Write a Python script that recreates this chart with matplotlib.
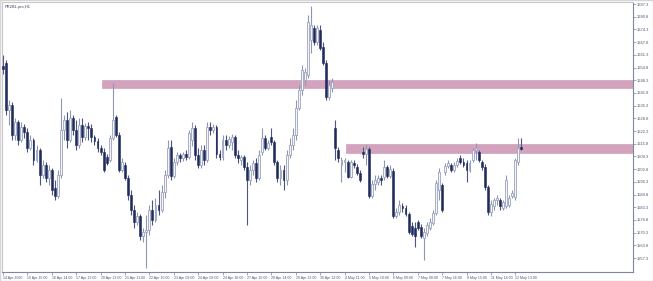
import matplotlib
matplotlib.use("Agg")
import matplotlib.pyplot as plt
from matplotlib.patches import Rectangle

title = "PR2BL.pro,H1"

opens = [1655.6, 1657.1, 1633.1, 1635.6, 1620.3, 1626.9, 1617.7, 1624.4, 1621.8, 1613.6,
         1617.7, 1607.5, 1612.6, 1599.8, 1604.9, 1598.3, 1602.3, 1593.1, 1589.0, 1599.8,
         1622.8, 1627.9, 1617.7, 1628.9, 1622.8, 1615.1, 1625.4, 1619.2, 1624.9, 1623.8,
         1619.2, 1617.2, 1613.6, 1611.6, 1609.0, 1607.5, 1618.7, 1629.5, 1620.3, 1602.3,
         1604.9, 1598.3, 1589.6, 1581.9, 1575.7, 1578.8, 1568.6, 1570.6, 1571.6, 1581.9,
         1576.8, 1584.4, 1581.9, 1591.1, 1599.8, 1614.1, 1599.3, 1606.4, 1610.0, 1608.5,
         1610.5, 1609.0, 1617.7, 1623.8, 1610.0, 1604.9, 1612.6, 1607.5, 1624.4, 1622.8,
         1624.4, 1610.5, 1609.0, 1617.7, 1615.1, 1616.7, 1619.2, 1610.0, 1607.5, 1609.0,
         1603.9, 1597.2, 1602.3, 1605.9, 1598.3, 1611.6, 1618.7, 1613.6, 1619.2, 1616.7,
         1606.4, 1598.3, 1602.3, 1597.2, 1610.0, 1615.1, 1620.3, 1634.1, 1643.3, 1648.4,
         1651.0, 1668.9, 1675.0, 1667.9, 1674.0, 1665.3, 1657.1, 1639.7, 1644.3, 1623.8,
         1612.6, 1604.9, 1606.4, 1606.4, 1598.8, 1605.9, 1603.9, 1600.8, 1611.6, 1610.5,
         1613.1, 1589.0, 1595.2, 1596.2, 1598.3, 1598.8, 1603.9, 1599.3, 1601.8, 1578.8,
         1580.9, 1583.9, 1582.9, 1579.8, 1573.7, 1572.7, 1575.7, 1573.2, 1567.5, 1570.1,
         1572.7, 1575.2, 1580.4, 1592.1, 1594.7, 1601.3, 1604.4, 1604.9, 1602.3, 1604.9,
         1608.5, 1606.4, 1605.9, 1602.3, 1607.5, 1612.6, 1611.6, 1606.4, 1603.9, 1593.6,
         1580.9, 1583.9, 1587.0, 1587.0, 1582.9, 1583.9, 1584.4, 1589.0, 1588.5, 1606.4,
         1614.1]
highs = [1661.2, 1658.6, 1638.2, 1637.1, 1628.9, 1627.9, 1626.9, 1625.9, 1623.8, 1620.3,
         1618.7, 1615.1, 1613.6, 1607.5, 1606.4, 1604.9, 1603.4, 1597.2, 1602.3, 1639.2,
         1630.5, 1632.0, 1633.1, 1630.5, 1627.9, 1628.9, 1628.9, 1626.4, 1626.9, 1625.9,
         1620.3, 1618.7, 1615.1, 1613.6, 1610.5, 1620.3, 1646.9, 1630.5, 1621.8, 1608.5,
         1606.4, 1599.8, 1592.1, 1584.4, 1580.9, 1579.8, 1572.7, 1579.3, 1584.4, 1587.0,
         1588.0, 1592.1, 1594.7, 1602.3, 1617.7, 1617.7, 1608.5, 1611.6, 1611.1, 1611.6,
         1612.6, 1622.8, 1626.9, 1625.4, 1613.6, 1615.1, 1615.1, 1626.9, 1626.9, 1625.9,
         1625.4, 1612.6, 1620.3, 1620.3, 1619.8, 1620.8, 1620.3, 1612.6, 1610.0, 1610.0,
         1606.4, 1604.9, 1607.5, 1608.5, 1612.6, 1623.8, 1620.3, 1617.7, 1623.8, 1617.7,
         1607.5, 1604.9, 1604.9, 1612.6, 1618.7, 1623.8, 1638.2, 1645.8, 1656.1, 1654.5,
         1681.7, 1686.3, 1676.6, 1676.6, 1676.6, 1667.9, 1658.6, 1648.4, 1649.4, 1627.9,
         1614.1, 1609.0, 1608.5, 1607.5, 1607.5, 1607.5, 1605.4, 1602.3, 1614.1, 1615.1,
         1614.1, 1597.2, 1599.8, 1599.8, 1599.8, 1607.5, 1604.9, 1604.9, 1603.4, 1582.9,
         1587.0, 1585.5, 1584.4, 1580.9, 1575.7, 1575.7, 1576.8, 1574.7, 1572.7, 1575.7,
         1577.8, 1581.9, 1597.2, 1603.4, 1595.7, 1605.9, 1607.5, 1605.9, 1606.4, 1608.5,
         1610.0, 1608.5, 1607.5, 1607.5, 1613.6, 1616.2, 1612.6, 1607.5, 1605.4, 1594.7,
         1587.0, 1588.0, 1589.6, 1588.0, 1587.0, 1599.8, 1589.6, 1592.1, 1608.5, 1618.7,
         1618.7]
lows = [1651.5, 1630.5, 1625.4, 1617.7, 1617.7, 1615.1, 1616.7, 1618.7, 1611.6, 1612.6,
        1604.9, 1606.4, 1594.7, 1598.3, 1596.2, 1594.7, 1589.6, 1587.0, 1588.0, 1598.3,
        1617.7, 1613.6, 1616.7, 1620.3, 1612.6, 1613.6, 1616.7, 1617.7, 1617.7, 1616.7,
        1615.1, 1611.6, 1610.0, 1601.3, 1604.9, 1606.4, 1617.7, 1619.2, 1601.3, 1601.3,
        1597.2, 1587.0, 1579.3, 1572.7, 1574.2, 1566.5, 1565.5, 1552.2, 1569.1, 1574.2,
        1575.7, 1579.3, 1580.9, 1588.0, 1598.3, 1597.2, 1598.3, 1604.9, 1606.4, 1606.9,
        1607.5, 1608.0, 1614.6, 1607.5, 1603.4, 1603.4, 1604.9, 1606.4, 1620.3, 1621.3,
        1608.5, 1607.5, 1607.5, 1612.6, 1613.6, 1612.6, 1608.5, 1605.9, 1604.9, 1602.3,
        1574.2, 1594.7, 1599.8, 1596.2, 1597.2, 1610.0, 1612.6, 1612.6, 1615.1, 1604.9,
        1596.2, 1594.7, 1592.1, 1594.7, 1608.5, 1612.6, 1617.7, 1633.1, 1640.7, 1645.8,
        1649.4, 1662.2, 1666.3, 1666.3, 1663.8, 1656.1, 1638.2, 1638.2, 1642.3, 1607.5,
        1606.4, 1596.2, 1601.3, 1598.3, 1598.3, 1603.4, 1599.8, 1596.2, 1608.5, 1604.9,
        1588.0, 1588.0, 1592.1, 1594.7, 1594.7, 1597.2, 1598.3, 1598.3, 1577.8, 1577.8,
        1579.3, 1580.9, 1578.8, 1569.6, 1568.6, 1562.9, 1571.6, 1567.5, 1556.3, 1568.6,
        1571.6, 1574.2, 1579.3, 1587.0, 1580.9, 1599.8, 1603.4, 1601.3, 1601.3, 1603.9,
        1605.4, 1603.9, 1596.2, 1601.3, 1606.4, 1607.5, 1606.4, 1602.3, 1592.1, 1579.3,
        1578.8, 1581.9, 1584.4, 1581.9, 1581.9, 1582.9, 1583.4, 1588.0, 1587.0, 1604.9,
        1612.6]
closes = [1654.0, 1633.1, 1635.6, 1620.3, 1626.9, 1617.7, 1624.4, 1621.8, 1613.6, 1617.7,
          1607.5, 1612.6, 1599.8, 1604.9, 1598.3, 1602.3, 1592.1, 1589.0, 1599.8, 1622.8,
          1627.9, 1617.7, 1628.9, 1622.8, 1615.1, 1625.4, 1619.2, 1624.9, 1623.8, 1619.2,
          1617.2, 1613.6, 1611.6, 1602.3, 1605.9, 1618.7, 1627.9, 1620.3, 1602.3, 1606.4,
          1598.3, 1589.6, 1581.9, 1575.7, 1578.8, 1568.6, 1570.6, 1571.6, 1581.9, 1576.8,
          1584.4, 1581.9, 1591.1, 1599.8, 1613.6, 1599.3, 1606.4, 1610.0, 1608.5, 1610.5,
          1609.0, 1621.3, 1623.8, 1610.0, 1604.9, 1612.6, 1607.5, 1624.4, 1622.8, 1624.4,
          1610.5, 1609.0, 1617.7, 1615.1, 1618.2, 1619.2, 1610.0, 1608.5, 1609.0, 1603.9,
          1597.2, 1602.3, 1605.9, 1598.3, 1610.0, 1618.7, 1613.6, 1616.2, 1616.7, 1606.4,
          1598.3, 1602.3, 1597.2, 1610.0, 1615.1, 1620.3, 1634.1, 1643.3, 1653.5, 1652.5,
          1678.1, 1676.6, 1667.9, 1675.0, 1664.8, 1657.1, 1639.7, 1645.8, 1647.4, 1613.6,
          1608.5, 1607.5, 1607.5, 1598.8, 1606.4, 1604.9, 1600.8, 1597.2, 1610.5, 1613.1,
          1589.0, 1595.2, 1597.2, 1598.3, 1597.2, 1603.9, 1599.3, 1602.9, 1578.8, 1580.9,
          1584.4, 1582.9, 1579.8, 1570.6, 1569.6, 1568.6, 1572.7, 1568.6, 1570.6, 1574.2,
          1575.7, 1580.4, 1595.7, 1601.3, 1581.9, 1604.4, 1605.9, 1602.3, 1604.9, 1606.9,
          1606.4, 1604.9, 1602.3, 1605.9, 1612.6, 1613.6, 1607.5, 1603.9, 1593.6, 1580.9,
          1584.9, 1587.0, 1588.0, 1583.9, 1586.0, 1597.2, 1588.0, 1590.6, 1607.5, 1613.6,
          1613.1]

x_labels = ["14 Apr 2020", "15 Apr 15:00", "16 Apr 14:00", "17 Apr 13:00", "20 Apr 12:00",
            "21 Apr 11:00", "22 Apr 10:00", "23 Apr 09:00", "24 Apr 08:00", "24 Apr 16:00",
            "27 Apr 15:00", "28 Apr 14:00", "29 Apr 13:00", "30 Apr 12:00", "4 May 11:00",
            "5 May 10:00", "6 May 09:00", "7 May 08:00", "7 May 16:00", "8 May 15:00",
            "11 May 14:00", "12 May 13:00"]
bars_per_label = 8

price_ticks = [1687.3, 1680.8, 1674.3, 1667.8, 1661.3, 1654.8, 1648.3, 1641.8, 1635.3,
               1628.8, 1622.3, 1615.8, 1609.3, 1602.8, 1596.3, 1589.8, 1583.3, 1576.8,
               1570.3, 1563.8, 1557.3]

zone_low = [1644.2, 1611.0]
zone_high = [1648.3, 1615.7]
zone_start = [32.5, 112.5]

W, H = 653, 281
fig = plt.figure(figsize=(W / 100, H / 100), dpi=100)
fig.patch.set_facecolor("white")
ax = fig.add_axes([1.5 / W, 9 / H, (633 - 1.5) / W, (272 - 1.5) / H])
ax.set_facecolor("white")

x_left, x_right = -0.49, 206.6
ax.set_xlim(x_left, x_right)
ax.set_ylim(1550.14, 1688.6)

zone_color = "#d3a3be"
for lo, hi, st in zip(zone_low, zone_high, zone_start):
    ax.add_patch(Rectangle((st, lo), x_right - st, hi - lo, facecolor=zone_color,
                           edgecolor="#c995b3", linewidth=0.4, zorder=1))

bear = "#1f2b5c"
bull_face = "#f4f5f9"
bull_edge = "#9ca4be"
wick = "#8e96b2"
bw = 0.62
for i, (o, h, l, c) in enumerate(zip(opens, highs, lows, closes)):
    ax.vlines(i, l, h, color=wick if c >= o else "#4a5580", linewidth=0.8, zorder=2)
    lo_b = min(o, c)
    hgt = max(abs(c - o), 0.35)
    if c >= o:
        ax.bar(i, hgt, bottom=lo_b, width=bw, color=bull_face, edgecolor=bull_edge,
               linewidth=0.6, zorder=3)
    else:
        ax.bar(i, hgt, bottom=lo_b, width=bw, color=bear, edgecolor=bear,
               linewidth=0.4, zorder=3)

axis_col = "#7d86a3"
for s in ["top", "left"]:
    ax.spines[s].set_color("#c8c8cc")
    ax.spines[s].set_linewidth(0.8)
for s in ["right", "bottom"]:
    ax.spines[s].set_color(axis_col)
    ax.spines[s].set_linewidth(0.8)

lab_font = "Liberation Sans"
ax.yaxis.tick_right()
ax.set_yticks(price_ticks)
ax.set_yticklabels([f"{p:.1f}" for p in price_ticks], fontfamily=lab_font)
ax.tick_params(axis="y", direction="out", length=2.0, width=0.5, color=axis_col,
               labelsize=2.9, labelcolor="#4e5675", pad=0.8)

xt = [k * bars_per_label for k in range(len(x_labels))]
ax.set_xticks(xt)
ax.set_xticklabels(x_labels, ha="left", fontfamily=lab_font)
ax.tick_params(axis="x", direction="out", length=2.0, width=0.5, color=axis_col,
               labelsize=2.6, labelcolor="#4e5675", pad=0.6)

fig.text(5 / W, 1 - 7 / H, title, fontsize=2.9, color="#3c4260", va="center", ha="left",
         fontfamily=lab_font)
fig.patches.append(Rectangle((0, 0), 1, 1, transform=fig.transFigure, fill=False,
                             edgecolor="#d6d6d6", linewidth=1.0))

fig.savefig("out.png", dpi=100)
